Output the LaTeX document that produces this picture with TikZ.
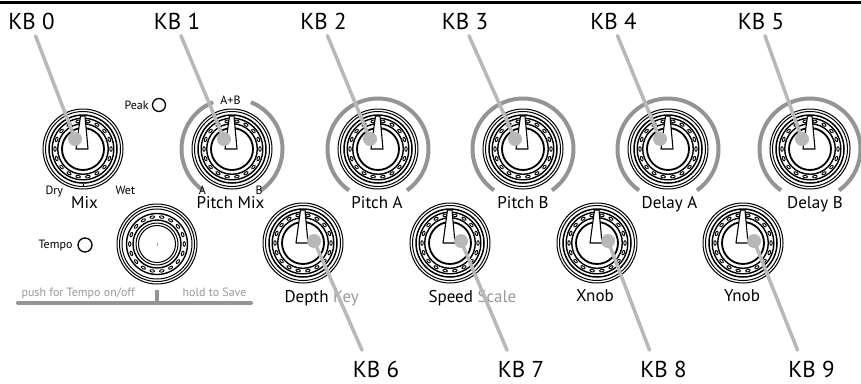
\documentclass[tikz,border=0pt]{standalone}
\usepackage{fontspec}
\setmainfont{PT Sans}
\usetikzlibrary{positioning, calc}
\definecolor{linegray}{gray}{0.72}
\definecolor{arcgray}{gray}{0.58}
\definecolor{textgray}{gray}{0.6}

\tikzset{
    knob/.pic={
        \draw[line width=1pt] (0,0) circle (40) (0,0) circle (37.5);
        \draw[line width=1.5pt] (0,0) circle (34);
        \draw[line width=1.4pt] (0,0) circle (30.8) (0,0) circle (25.3);
        \foreach \a in {0,20,...,340}
            \draw[line width=0.9pt, rotate=\a] (28,0) ellipse (1.2 and 2.3);
        \draw[line width=1.8pt] (0,0) circle (21);
        \draw[line width=1.1pt, fill=white, line join=round] (-2.5,-33) -- (2,-33) -- (5,0) -- (-7,0) -- cycle;
    },
    button/.pic={
        \draw[line width=1pt] (0,0) circle (40) (0,0) circle (37.5) (0,0) circle (35);
        \draw[line width=1.4pt] (0,0) circle (30.5) (0,0) circle (24);
        \foreach \a in {0,20,...,340}
            \draw[line width=0.9pt, rotate=\a] (27.3,0) ellipse (1.2 and 2.3);
        \draw[line width=1pt] (0,0) circle (21) (0,0) circle (18.5);
        \draw[textgray, line width=0.6pt] (0,-1.5) -- (0,1.5);
    }
}

\begin{document}
\begin{tikzpicture}[x=1pt, y=-1pt,
        kbline/.style={draw=linegray, line width=3.5pt, line cap=round},
        rangearc/.style={draw=arcgray, line width=4pt},
        kblabel/.style={font=\fontsize{23}{23}\selectfont, anchor=base},
        knoblabel/.style={font=\fontsize{17}{17}\selectfont, anchor=base},
        smalltext/.style={font=\fontsize{12}{12}\selectfont, anchor=base},
        hint/.style={font=\fontsize{12}{12}\selectfont, text=textgray, anchor=base}]
    \useasboundingbox (0,0) rectangle (861,383);
    \draw[line width=3pt] (0,2) -- (861,2);

    % top row
    \foreach \n/\x in {0/83, 1/232, 2/378, 3/523, 4/668, 5/810} {
        \coordinate (k\n) at (\x,149);
        \pic at (k\n) {knob};
        \coordinate (d\n) at ([shift={(-8,-10)}]k\n);
    }
    \foreach \n in {2,...,5}
        \draw[rangearc] ([shift={(125:50.5)}]k\n) arc[start angle=125, end angle=415, radius=50.5];
    \draw[rangearc] ([shift={(125:50.5)}]k1) arc[start angle=125, end angle=248, radius=50.5];
    \draw[rangearc] ([shift={(292:50.5)}]k1) arc[start angle=292, end angle=415, radius=50.5];

    % bottom row
    \foreach \n/\x in {6/303, 7/450, 8/597, 9/743} {
        \coordinate (k\n) at (\x,243);
        \pic at (k\n) {knob};
        \coordinate (d\n) at ([shift={(11,-2)}]k\n);
    }
    \coordinate (tap) at (157,244);
    \pic at (tap) {button};

    % knob names
    \node[knoblabel] (mix) at (84.5,208) {Mix};
    \node[knoblabel] (pmix) at (230.5,208) {Pitch Mix};
    \node[knoblabel] (pa) at (377,208) {Pitch A};
    \node[knoblabel] (pb) at (523,208) {Pitch B};
    \node[knoblabel] (dla) at (669.5,208) {Delay A};
    \node[knoblabel] (dlb) at (815,208) {Delay B};
    \node[knoblabel, anchor=base west] (depth) at (281,302) {Depth \textcolor{textgray}{Key}};
    \node[knoblabel, anchor=base west] (speed) at (425,302) {Speed \textcolor{textgray}{Scale}};
    \node[knoblabel] (xnob) at (595,301) {Xnob};
    \node[knoblabel] (ynob) at (742,301) {Ynob};

    \node[smalltext, anchor=base west] (dry) at (42,194) {Dry};
    \node[smalltext, anchor=base west] (wet) at (112,194) {Wet};
    \draw[line width=1pt] (83,184) -- (83,186);
    \node[smalltext] (ab) at (230.5,104) {A+B};
    \node[smalltext] (a) at (202.5,194) {A};
    \node[smalltext] (b) at (259,194) {B};
    \node[smalltext, anchor=base west] (peak) at (121,109) {Peak};
    \draw[line width=1.3pt] (159,105) circle (6.5);
    \node[smalltext, anchor=base west] (tempo) at (35,248) {Tempo};
    \draw[line width=1.3pt] (85,245) circle (7);

    \node[hint, anchor=base west] (push) at (18,296) {push for Tempo on/off};
    \node[hint, anchor=base east] (hold) at (250,296) {hold to Save};
    \draw[draw=arcgray, line width=4pt, line cap=round] (18,303) -- (251,303);
    \draw[draw=arcgray, line width=4pt] (157,290) -- (157,303);

    % KB labels and leaders
    \foreach \n/\x in {0/31.5, 1/177, 2/323.5, 3/465, 4/613.5, 5/761} {
        \node[kblabel] (kb\n) at (\x,29) {KB \n};
        \draw[kbline] ([xshift=4pt, yshift=-3pt]kb\n.south) -- (d\n);
    }
    \foreach \n/\x in {6/376, 7/521, 8/663.5, 9/811.5} {
        \node[kblabel] (kb\n) at (\x,377) {KB \n};
        \draw[kbline] ([xshift=-14pt, yshift=7pt]kb\n.north) -- (d\n);
    }
    \foreach \n in {0,...,9}
        \fill[linegray] (d\n) circle (7);
\end{tikzpicture}
\end{document}
